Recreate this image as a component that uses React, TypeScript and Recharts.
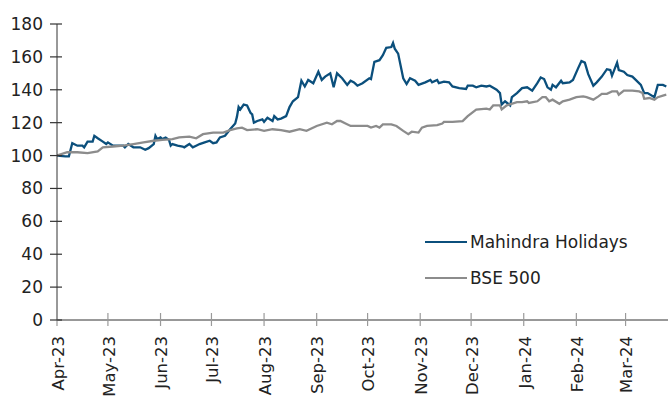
import React from "react";
import { LineChart, Line, XAxis, YAxis } from "recharts";

// days counted from 1 Apr 2023
const mhDays = [0, 5, 7, 9, 12, 15, 16, 18, 21, 22, 24, 27, 29, 30, 33, 36, 39, 40, 42, 45, 49, 52, 54, 57, 58, 59, 61, 62, 64, 66, 67, 68, 71, 74, 75, 78, 80, 82, 84, 87, 90, 92, 94, 96, 99, 102, 105, 106, 107, 108, 110, 112, 114, 115, 116, 118, 121, 122, 124, 127, 128, 130, 132, 135, 137, 139, 142, 144, 146, 148, 151, 154, 156, 158, 161, 163, 165, 168, 171, 173, 175, 177, 180, 184, 185, 187, 190, 192, 194, 197, 198, 199, 201, 204, 206, 208, 211, 213, 217, 220, 221, 224, 225, 228, 231, 233, 237, 241, 242, 245, 247, 250, 253, 255, 259, 261, 262, 264, 267, 268, 271, 274, 277, 280, 283, 285, 287, 289, 291, 292, 294, 297, 298, 302, 304, 307, 309, 311, 313, 316, 318, 321, 324, 326, 327, 330, 331, 334, 336, 339, 341, 344, 346, 348, 352, 354, 357, 359];
const mhValues = [100, 99.5, 99.5, 107.5, 106, 106, 105, 108.5, 108.5, 112, 110.5, 108.5, 107, 108, 106, 106, 106, 105, 107, 105, 105, 103.5, 104.5, 107, 112, 110, 111, 110, 111, 109.5, 106, 107, 106, 105.5, 105, 107, 105, 106, 107, 108, 109, 107.5, 108, 111, 112, 116, 119.5, 123.5, 129.5, 128, 131, 130.5, 126, 125, 120, 121, 122, 120.5, 123, 121, 124, 122, 122.5, 124, 129.5, 133, 135.5, 145.5, 142, 146, 144, 151, 146, 148, 150, 141.5, 150, 147, 143, 145.5, 144.5, 142.5, 144, 147, 146.5, 157, 158, 161, 165.5, 166, 168.5, 165, 162, 147, 143.5, 147, 145.5, 143, 144.5, 146, 144.5, 146, 144, 145, 144.5, 142, 141, 140.5, 142.5, 142.5, 141.5, 142.5, 142, 142.5, 140, 138, 131, 133, 130.5, 135.5, 138, 141, 141.5, 139.5, 144, 147.5, 146.5, 141.5, 140, 143, 141.5, 145.5, 144, 144.5, 146, 153, 157.5, 156.5, 149.5, 142.5, 144.5, 148, 152.5, 152, 148.5, 156.5, 152, 151, 149, 148, 146, 143, 138, 138, 135.5, 143, 143, 142];

const bseDays = [0, 3, 6, 12, 18, 24, 27, 33, 39, 45, 51, 57, 62, 68, 72, 78, 82, 86, 92, 98, 102, 106, 109, 112, 118, 122, 127, 132, 137, 143, 147, 153, 159, 162, 165, 167, 170, 173, 178, 183, 185, 188, 190, 192, 197, 200, 204, 207, 209, 213, 215, 218, 224, 227, 228, 233, 239, 242, 247, 253, 255, 257, 261, 262, 265, 271, 274, 277, 278, 283, 286, 288, 290, 292, 296, 298, 302, 306, 310, 312, 316, 319, 321, 324, 327, 330, 331, 334, 339, 343, 345, 346, 349, 352, 354, 357, 359];
const bseValues = [100, 101, 102, 102, 101.5, 102.5, 105, 105.5, 106, 107, 108, 109, 109.5, 110, 111, 111.5, 110.5, 113, 114, 114, 115.5, 116.5, 117, 115.5, 116, 115, 116, 115.5, 114.5, 116, 115, 118, 120, 119, 121, 121, 119.5, 118, 118, 118, 117, 118, 117, 119, 119, 118, 115, 113, 114.5, 114, 117, 118, 118.5, 119.5, 120.5, 120.5, 121, 124, 128, 128.5, 128, 130.5, 130.5, 128, 130.5, 132.5, 132.5, 133, 132, 133, 135.5, 135.5, 133, 134, 131.5, 133, 134, 135.5, 136, 135.5, 134, 136, 137.5, 137.5, 139, 139, 137, 139.5, 139.5, 139, 138, 134.5, 135, 134, 135.5, 136.5, 137];

const monthLabels = ["Apr-23", "May-23", "Jun-23", "Jul-23", "Aug-23", "Sep-23", "Oct-23", "Nov-23", "Dec-23", "Jan-24", "Feb-24", "Mar-24"];
const monthStarts = [0, 30, 61, 91, 122, 153, 183, 214, 244, 275, 306, 335];
const yTicks = [0, 20, 40, 60, 80, 100, 120, 140, 160, 180];

const seriesNames = ["Mahindra Holidays", "BSE 500"];
const seriesColors = ["#0b4f7c", "#8c8c8c"];

const mhData = mhDays.map((d, i) => ({ day: d, value: mhValues[i] }));
const bseData = bseDays.map((d, i) => ({ day: d, value: bseValues[i] }));

const FONT = "'DejaVu Sans', sans-serif";

const XTick = (props: any) => {
  const { x, y, payload } = props;
  const idx = monthStarts.indexOf(payload.value);
  return (
    <g>
      <line x1={x} x2={x} y1={y - 7} y2={y + 6} stroke="#9a9a9a" strokeWidth={1.2} />
      <text
        x={0}
        y={0}
        transform={`translate(${x + 1},${y + 16}) rotate(-90)`}
        textAnchor="end"
        dy="0.35em"
        fontFamily={FONT}
        fontSize={16.5}
        fill="#222"
      >
        {monthLabels[idx]}
      </text>
    </g>
  );
};

const YTick = (props: any) => {
  const { x, y, payload } = props;
  return (
    <g>
      <line x1={x - 7} x2={x + 5} y1={y} y2={y} stroke="#333" strokeWidth={1.2} />
      <text x={x - 14} y={y} dy="0.35em" textAnchor="end" fontFamily={FONT} fontSize={17} fill="#222">
        {payload.value}
      </text>
    </g>
  );
};

export default function App() {
  return (
    <div style={{ position: "absolute", left: 0, top: 0, width: 668, height: 401, background: "#fff" }}>
      <LineChart width={668} height={401} margin={{ top: 24, right: 0, bottom: 0, left: 0 }}>
        <XAxis
          type="number"
          dataKey="day"
          domain={[0, 360]}
          ticks={monthStarts}
          allowDataOverflow
          height={81}
          tickSize={0}
          tickMargin={0}
          tick={<XTick />}
          tickLine={false}
          stroke="#333"
          interval={0}
        />
        <YAxis
          type="number"
          domain={[0, 180]}
          ticks={yTicks}
          width={57}
          tickSize={0}
          tickMargin={0}
          tick={<YTick />}
          tickLine={false}
          stroke="#333"
          interval={0}
        />
        <Line
          data={mhData}
          dataKey="value"
          name={seriesNames[0]}
          stroke={seriesColors[0]}
          strokeWidth={2.3}
          dot={false}
          type="linear"
          isAnimationActive={false}
        />
        <Line
          data={bseData}
          dataKey="value"
          name={seriesNames[1]}
          stroke={seriesColors[1]}
          strokeWidth={2.3}
          dot={false}
          type="linear"
          isAnimationActive={false}
        />
      </LineChart>
      <div style={{ position: "absolute", left: 425, top: 224, fontFamily: FONT, fontSize: 17, color: "#222" }}>
        {seriesNames.map((n, i) => (
          <div key={n} style={{ display: "flex", alignItems: "center", height: 36 }}>
            <span style={{ display: "inline-block", width: 42, height: 2, background: seriesColors[i], marginRight: 3 }} />
            <span>{n}</span>
          </div>
        ))}
      </div>
    </div>
  );
}
